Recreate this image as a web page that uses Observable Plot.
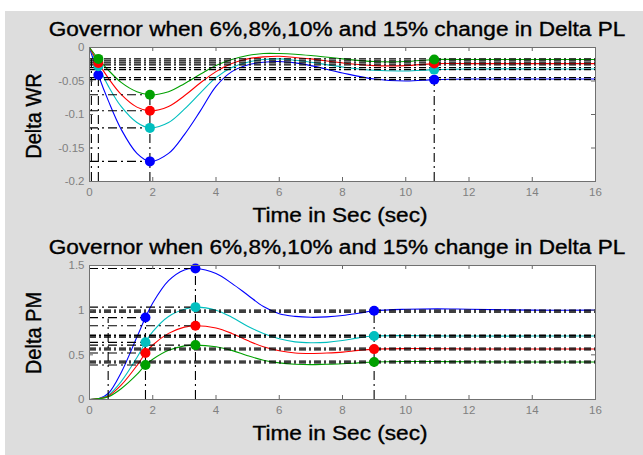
<!DOCTYPE html>
<html>
<head>
<meta charset="utf-8">
<script src="https://cdn.jsdelivr.net/npm/d3@7"></script>
<script src="https://cdn.jsdelivr.net/npm/@observablehq/plot@0.6"></script>
<style>
  body { margin: 0; background: #ffffff; }
  #wrap { position: relative; width: 643px; height: 455px; overflow: hidden; font-family: "Liberation Sans", Arial, sans-serif; }
  #bg { position: absolute; left: 5px; top: 11px; width: 638px; height: 444px; background: #dddddd; }
  .svgbox { position: absolute; left: 0; }
  .lbl { position: absolute; white-space: nowrap; color: #000; font-size: 20px; line-height: 1; -webkit-text-stroke: 0.35px #000; transform: translate(-50%, -50%) scaleX(1.13); }
  .ylbl { position: absolute; white-space: nowrap; color: #000; font-size: 20px; line-height: 1; -webkit-text-stroke: 0.35px #000; transform: translate(-50%, -50%) rotate(-90deg) scaleY(1.13); }
</style>
</head>
<body>
<div id="wrap">
  <div id="bg"></div>
  <div class="svgbox" id="p1" style="top:0px"></div>
  <div class="svgbox" id="p2" style="top:230px"></div>
  <div class="lbl" style="left:337px; top:29px">Governor when 6%,8%,10% and 15% change in Delta PL</div>
  <div class="lbl" style="left:340px; top:215px">Time in Sec (sec)</div>
  <div class="ylbl" style="left:33px; top:116px">Delta WR</div>
  <div class="lbl" style="left:337px; top:247px">Governor when 6%,8%,10% and 15% change in Delta PL</div>
  <div class="lbl" style="left:340px; top:433px">Time in Sec (sec)</div>
  <div class="ylbl" style="left:33px; top:333px">Delta PM</div>
</div>
<script>
// ---------- shared ----------
const seriesNames = ["15%", "10%", "8%", "6%"];
const seriesColors = ["#0000ff", "#00bfbf", "#ff0000", "#00a000"];
const xTicks = [0, 2, 4, 6, 8, 10, 12, 14, 16];

// ---------- top plot: Delta WR ----------
const tWR = [0, 0.28, 0.6, 1, 1.5, 1.91, 2.5, 3, 3.5, 4, 4.5, 5, 5.5, 6, 6.5, 7, 8, 9, 10, 10.9, 12, 14, 16];
const wrBlue  = [0, -0.041, -0.08, -0.122, -0.158, -0.170, -0.158, -0.13, -0.095, -0.058, -0.036, -0.026, -0.022, -0.021, -0.023, -0.027, -0.038, -0.047, -0.050, -0.048, -0.047, -0.047, -0.047];
const wrCyan  = [0, -0.028, -0.058, -0.088, -0.112, -0.120, -0.112, -0.092, -0.068, -0.045, -0.030, -0.022, -0.018, -0.017, -0.019, -0.022, -0.029, -0.034, -0.035, -0.033, -0.032, -0.032, -0.032];
const wrRed   = [0, -0.023, -0.046, -0.07, -0.089, -0.0945, -0.088, -0.072, -0.053, -0.036, -0.024, -0.017, -0.014, -0.013, -0.015, -0.017, -0.023, -0.027, -0.027, -0.024, -0.024, -0.024, -0.024];
const wrGreen = [0, -0.017, -0.034, -0.052, -0.066, -0.0706, -0.066, -0.054, -0.040, -0.027, -0.018, -0.012, -0.009, -0.009, -0.010, -0.012, -0.017, -0.021, -0.021, -0.018, -0.018, -0.018, -0.018];
const wrYTicks = [0, -0.05, -0.1, -0.15, -0.2];
const wrMarkT = [0.28, 1.91, 10.9];          // marker times (data tips)
const wrFullRefs = [-0.017, -0.020, -0.023, -0.026, -0.030, -0.033, -0.045, -0.048];
const wrMinRefs = [-0.0706, -0.0945, -0.12, -0.170];
const wrVertRefs = [{t: 0.06, v: -0.017}, {t: 0.28, v: -0.041}, {t: 1.91, v: -0.0706}, {t: 10.9, v: -0.047}];

// ---------- bottom plot: Delta PM ----------
const tPM = [0, 0.3, 0.6, 1, 1.5, 1.77, 2, 2.5, 3, 3.35, 4, 4.5, 5, 5.5, 6, 6.5, 7, 7.5, 8, 8.5, 9, 10, 11, 12, 14, 16];
const pmBlue  = [0, 0.01, 0.07, 0.3, 0.7, 0.917, 1.08, 1.33, 1.45, 1.466, 1.41, 1.30, 1.17, 1.04, 0.96, 0.93, 0.92, 0.925, 0.94, 0.965, 0.993, 1.01, 1.015, 1.01, 1.0, 1.0];
const pmCyan  = [0, 0.01, 0.05, 0.2, 0.47, 0.64, 0.76, 0.93, 1.01, 1.034, 1.0, 0.92, 0.82, 0.74, 0.68, 0.645, 0.635, 0.64, 0.66, 0.69, 0.71, 0.715, 0.712, 0.71, 0.71, 0.71];
const pmRed   = [0, 0.01, 0.04, 0.16, 0.38, 0.52, 0.61, 0.74, 0.81, 0.826, 0.80, 0.74, 0.66, 0.59, 0.545, 0.52, 0.515, 0.52, 0.53, 0.55, 0.564, 0.57, 0.568, 0.566, 0.565, 0.565];
const pmGreen = [0, 0.01, 0.03, 0.12, 0.28, 0.387, 0.45, 0.55, 0.6, 0.609, 0.59, 0.55, 0.49, 0.44, 0.41, 0.395, 0.39, 0.395, 0.40, 0.41, 0.42, 0.425, 0.425, 0.422, 0.42, 0.42];
const pmYTicks = [0, 0.5, 1, 1.5];
const pmMarkT = [1.77, 3.35, 9];
const pmFullRefs = [1.0, 0.98, 0.72, 0.70, 0.575, 0.555, 0.43, 0.41];
const pmPeakRefs = [1.466, 1.034, 0.826, 0.609];
const pmRiseRefs = [0.917, 0.64, 0.52, 0.387];
const pmVertRefs = [{t: 0.59, v: 0.9}, {t: 1.77, v: 0.917}, {t: 3.35, v: 1.466}, {t: 9, v: 0.996}];

function longData(times, arrays) {
  const out = [];
  arrays.forEach((arr, i) => arr.forEach((v, j) => out.push({s: seriesNames[i], t: times[j], v})));
  return out;
}
function markData(times, arrays, markT) {
  return longData(times, arrays).filter(d => markT.includes(d.t));
}

function makePlot(opts) {
  const {times, arrays, yDomain, yTicks, markT, fullRefs, partRefs, vertRefs, height, mt, mb, yFormat} = opts;
  const W = 643, ml = 89, mr = 48;
  const fw = W - ml - mr, fh = height - mt - mb;
  const data = longData(times, arrays);
  const marks = markData(times, arrays, markT);
  const dash = "7,3,2,3";
  return Plot.plot({
    width: W, height, marginLeft: ml, marginRight: mr, marginTop: mt, marginBottom: mb,
    style: {background: "transparent", color: "#808080", fontSize: "11.5px", fontFamily: "Liberation Sans, Arial, sans-serif", overflow: "visible"},
    x: {domain: [0, 16], ticks: xTicks, tickSize: 0, tickPadding: 6, label: null, tickFormat: d => String(d)},
    y: {domain: yDomain, ticks: yTicks, tickSize: 0, tickPadding: 5, label: null, tickFormat: yFormat},
    color: {domain: seriesNames, range: seriesColors},
    marks: [
      Plot.frame({fill: "white", stroke: "none"}),
      Plot.line(data, {x: "t", y: "v", z: "s", stroke: "s", strokeWidth: 1.1, curve: "catmull-rom"}),
      Plot.ruleY(fullRefs, {y: d => d, stroke: "black", strokeWidth: 1.4, strokeDasharray: dash}),
      ...partRefs.map(p => Plot.ruleY(p.vals, {y: d => d, x1: 0, x2: p.t, stroke: "black", strokeWidth: 1.1, strokeDasharray: "9,4,2,4"})),
      Plot.ruleX(vertRefs, {x: "t", y1: yDomain[0], y2: "v", stroke: "black", strokeWidth: 1.1, strokeDasharray: "9,4,2,4"}),
      Plot.dot(marks, {x: "t", y: "v", fill: "s", r: 5, stroke: "none"}),
      Plot.ruleX(xTicks, {x: d => d, insetTop: fh - 4, stroke: "#666"}),
      Plot.ruleX(xTicks, {x: d => d, insetBottom: fh - 4, stroke: "#666"}),
      Plot.ruleY(yTicks, {y: d => d, insetRight: fw - 4, stroke: "#666"}),
      Plot.ruleY(yTicks, {y: d => d, insetLeft: fw - 4, stroke: "#666"}),
      Plot.frame({stroke: "#707070", strokeWidth: 1})
    ]
  });
}

document.getElementById("p1").appendChild(makePlot({
  times: tWR, arrays: [wrBlue, wrCyan, wrRed, wrGreen], yDomain: [-0.2, 0], yTicks: wrYTicks,
  markT: wrMarkT, fullRefs: wrFullRefs,
  partRefs: [{t: 1.91, vals: wrMinRefs}],
  vertRefs: wrVertRefs, height: 230, mt: 47, mb: 49, yFormat: d => String(d)
}));
document.getElementById("p2").appendChild(makePlot({
  times: tPM, arrays: [pmBlue, pmCyan, pmRed, pmGreen], yDomain: [0, 1.5], yTicks: pmYTicks,
  markT: pmMarkT, fullRefs: pmFullRefs,
  partRefs: [{t: 3.35, vals: pmPeakRefs}, {t: 1.77, vals: pmRiseRefs}],
  vertRefs: pmVertRefs, height: 225, mt: 35, mb: 56, yFormat: d => String(d)
}));
</script>
</body>
</html>
